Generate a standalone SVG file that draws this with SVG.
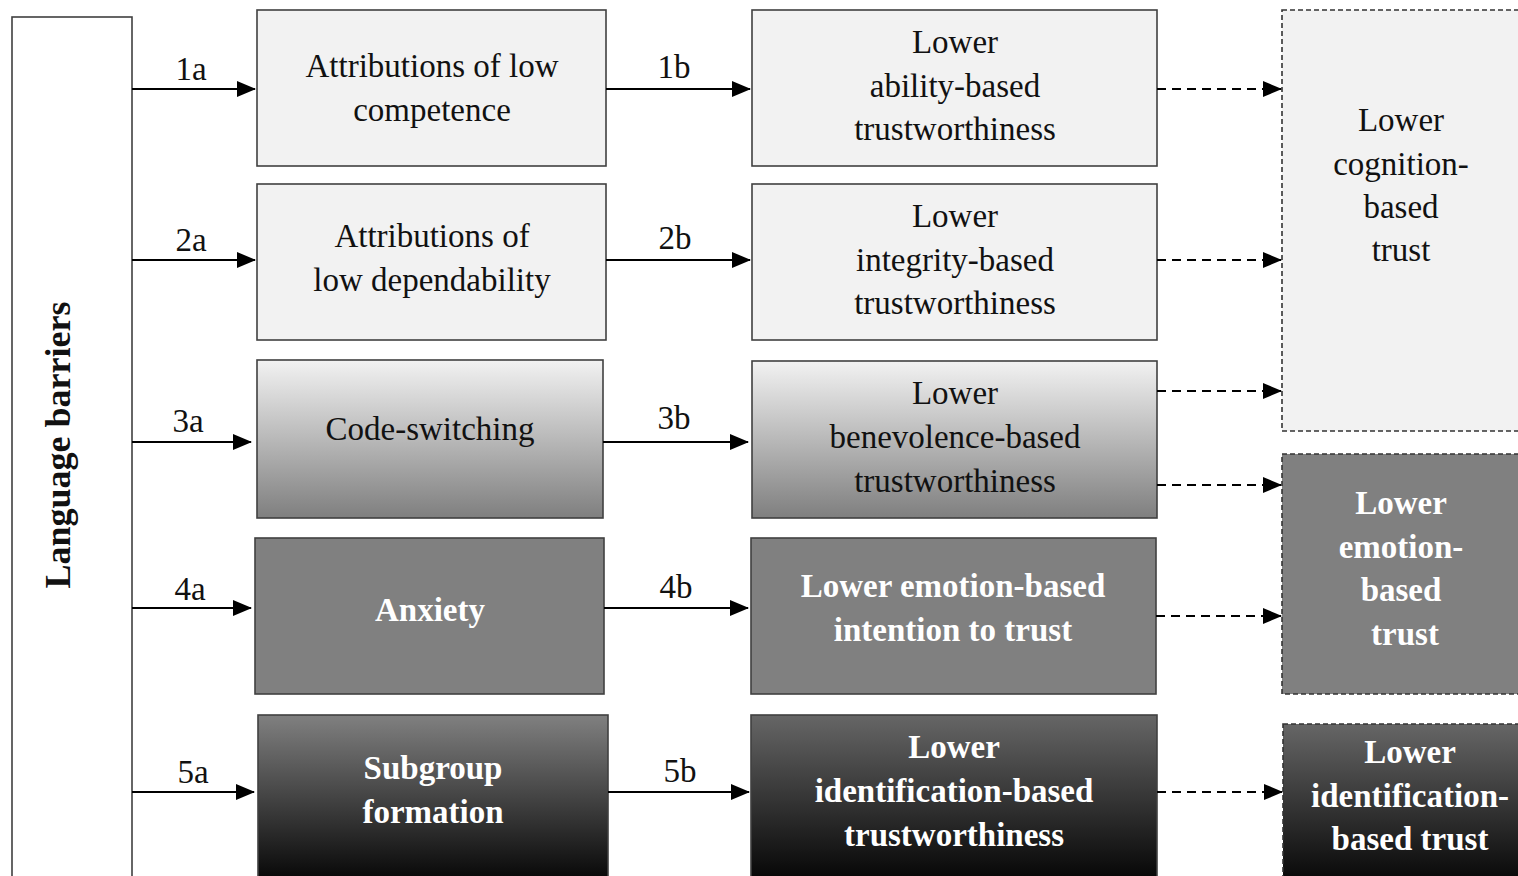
<svg xmlns="http://www.w3.org/2000/svg" width="1518" height="876" viewBox="0 0 1518 876">
<defs>
<linearGradient id="gLight" x1="0" y1="0" x2="0" y2="1"><stop offset="0" stop-color="#f2f2f2"/><stop offset="1" stop-color="#7f7f7f"/></linearGradient>
<linearGradient id="gDark" x1="0" y1="0" x2="0" y2="1"><stop offset="0" stop-color="#808080"/><stop offset="1" stop-color="#000000"/></linearGradient>
<linearGradient id="gDark2" x1="0" y1="0" x2="0" y2="1"><stop offset="0" stop-color="#666666"/><stop offset="1" stop-color="#000000"/></linearGradient>
<marker id="ah" markerUnits="userSpaceOnUse" markerWidth="20" markerHeight="16" refX="18" refY="8" orient="auto"><path d="M0,0 L19,8 L0,16 Z" fill="#000"/></marker>
<style>
.box{stroke:#404040;stroke-width:1.6}
.dbox{stroke:#333;stroke-width:1.6;stroke-dasharray:5 3}
.t{font-family:"Liberation Serif","Times New Roman",serif;font-size:33px;fill:#111;text-anchor:middle}
.w{font-weight:bold;fill:#fff}
.lbl{font-family:"Liberation Serif","Times New Roman",serif;font-size:33px;fill:#111;text-anchor:middle}
.a{stroke:#000;stroke-width:2;fill:none;marker-end:url(#ah)}
.d{stroke:#000;stroke-width:2;fill:none;stroke-dasharray:9 6;marker-end:url(#ah)}
</style>
</defs>
<rect width="1518" height="876" fill="#fff"/>
<g id="language-barriers">
<rect class="box" x="12" y="17" width="120" height="870" fill="#fff"/>
<text class="t" style="font-weight:bold;font-size:36px" transform="translate(70,445) rotate(-90)">Language barriers</text>
</g>
<g id="attr-competence">
<rect class="box" x="257" y="10" width="349" height="156" fill="#f2f2f2"/>
<text class="t" x="432" y="77">Attributions of low</text>
<text class="t" x="432" y="121">competence</text>
</g>
<g id="attr-dependability">
<rect class="box" x="257" y="184" width="349" height="156" fill="#f2f2f2"/>
<text class="t" x="432" y="247">Attributions of</text>
<text class="t" x="432" y="291">low dependability</text>
</g>
<g id="code-switching">
<rect class="box" x="257" y="360" width="346" height="158" fill="url(#gLight)"/>
<text class="t" x="430" y="440">Code-switching</text>
</g>
<g id="anxiety">
<rect class="box" x="255" y="538" width="349" height="156" fill="#808080"/>
<text class="t w" x="430" y="621">Anxiety</text>
</g>
<g id="subgroup">
<rect class="box" x="258" y="715" width="350" height="175" fill="url(#gDark)"/>
<text class="t w" x="433" y="779">Subgroup</text>
<text class="t w" x="433" y="823">formation</text>
</g>
<g id="ability">
<rect class="box" x="752" y="10" width="405" height="156" fill="#f2f2f2"/>
<text class="t" x="955" y="53">Lower</text>
<text class="t" x="955" y="97">ability-based</text>
<text class="t" x="955" y="140">trustworthiness</text>
</g>
<g id="integrity">
<rect class="box" x="752" y="184" width="405" height="156" fill="#f2f2f2"/>
<text class="t" x="955" y="227">Lower</text>
<text class="t" x="955" y="271">integrity-based</text>
<text class="t" x="955" y="314">trustworthiness</text>
</g>
<g id="benevolence">
<rect class="box" x="752" y="361" width="405" height="157" fill="url(#gLight)"/>
<text class="t" x="955" y="404">Lower</text>
<text class="t" x="955" y="448">benevolence-based</text>
<text class="t" x="955" y="492">trustworthiness</text>
</g>
<g id="emotion-intention">
<rect class="box" x="751" y="538" width="405" height="156" fill="#808080"/>
<text class="t w" x="953" y="597">Lower emotion-based</text>
<text class="t w" x="953" y="641">intention to trust</text>
</g>
<g id="identification-tw">
<rect class="box" x="751" y="715" width="406" height="175" fill="url(#gDark2)"/>
<text class="t w" x="954" y="758">Lower</text>
<text class="t w" x="954" y="802">identification-based</text>
<text class="t w" x="954" y="846">trustworthiness</text>
</g>
<g id="cognition-trust">
<rect class="dbox" x="1282" y="10" width="240" height="421" fill="#f2f2f2"/>
<text class="t" x="1401" y="131">Lower</text>
<text class="t" x="1401" y="175">cognition-</text>
<text class="t" x="1401" y="218">based</text>
<text class="t" x="1401" y="261">trust</text>
</g>
<g id="emotion-trust">
<rect class="dbox" x="1282" y="454" width="240" height="240" fill="#808080"/>
<text class="t w" x="1401" y="514">Lower</text>
<text class="t w" x="1401" y="558">emotion-</text>
<text class="t w" x="1401" y="601">based</text>
<text class="t w" x="1405" y="645">trust</text>
</g>
<g id="identification-trust">
<rect class="dbox" x="1283" y="724" width="240" height="170" fill="url(#gDark2)"/>
<text class="t w" x="1410" y="763">Lower</text>
<text class="t w" x="1410" y="807">identification-</text>
<text class="t w" x="1410" y="850">based trust</text>
</g>
<g id="connectors">
<path class="a" d="M132,89 H255"/>
<path class="a" d="M606,89 H750"/>
<path class="a" d="M132,260 H255"/>
<path class="a" d="M606,260 H750"/>
<path class="a" d="M132,442 H251"/>
<path class="a" d="M603,442 H748"/>
<path class="a" d="M132,608 H251"/>
<path class="a" d="M604,608 H748"/>
<path class="a" d="M132,792 H254"/>
<path class="a" d="M608,792 H749"/>
<path class="d" d="M1157,89 H1281"/>
<path class="d" d="M1157,260 H1281"/>
<path class="d" d="M1157,391 H1281"/>
<path class="d" d="M1157,485 H1281"/>
<path class="d" d="M1156,616 H1281"/>
<path class="d" d="M1157,792 H1282"/>
<text class="lbl" x="191" y="80">1a</text>
<text class="lbl" x="674" y="78">1b</text>
<text class="lbl" x="191" y="251">2a</text>
<text class="lbl" x="675" y="249">2b</text>
<text class="lbl" x="188" y="432">3a</text>
<text class="lbl" x="674" y="429">3b</text>
<text class="lbl" x="190" y="600">4a</text>
<text class="lbl" x="676" y="598">4b</text>
<text class="lbl" x="193" y="783">5a</text>
<text class="lbl" x="680" y="782">5b</text>
</g>
</svg>
